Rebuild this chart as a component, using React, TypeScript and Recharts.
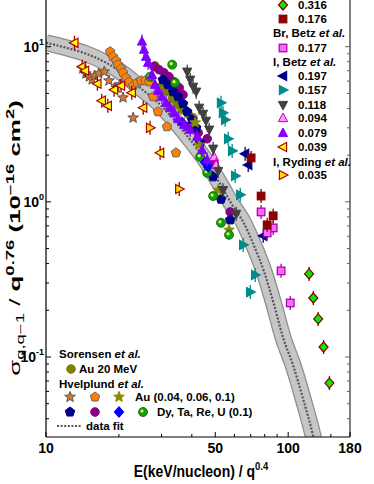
import React from 'react';
import { ComposedChart, Scatter, Line, XAxis, YAxis } from 'recharts';

// axis values
const xTicks = [10, 20, 30, 40, 50, 60, 70, 80, 90, 100, 150, 180];
const xLabels = [10, 50, 100, 180];
const yTicks = [0.04, 0.05, 0.06, 0.07, 0.08, 0.09, 0.1, 0.2, 0.3, 0.4, 0.5, 0.6, 0.7, 0.8, 0.9, 1, 2, 3, 4, 5, 6, 7, 8, 9, 10];
const yMajor: Record<number, string> = { 0.1: '-1', 1: '0', 10: '1' };

// data fit
const fitE = [10, 12.1, 14.6, 17.7, 21.4, 24.4, 28.2, 33.2, 39.4, 46.3, 52.4, 58.7, 65.2, 71.7, 79.6, 87.5, 95.3, 105, 115, 127, 133];
const fitS = [10.6, 9.85, 9.02, 7.88, 6.5, 5.44, 4.55, 3.48, 2.51, 1.79, 1.3, 0.957, 0.743, 0.536, 0.353, 0.216, 0.133, 0.0875, 0.0543, 0.0305, 0.0216];

// measured points
const d316E = [122, 127, 133, 140, 148];
const d316S = [0.343, 0.24, 0.176, 0.116, 0.0679];
const d176E = [70.3, 77.3, 86.7, 81.9];
const d176S = [1.92, 1.09, 0.813, 0.711];
const br177E = [77.3, 86.7, 81.9, 93.5, 102];
const br177S = [0.861, 0.679, 0.631, 0.359, 0.223];
const i197E = [66.4, 68.4, 78.9];
const i197S = [2.04, 1.73, 0.604];
const i157E = [52.8, 53.8, 54.9, 56.5, 58.7, 60.4, 63.4, 65.2, 73.1, 69.7];
const i157S = [4.35, 3.75, 3.38, 2.55, 2.13, 1.47, 1.11, 0.528, 0.338, 0.262];
const i118E = [38.3, 39.4, 40.5, 41.7, 42.9, 44.5, 45.8, 47.2, 49.0, 51.4, 53.8, 61.0];
const i118S = [6.9, 6.13, 5.52, 5.13, 4.04, 3.69, 3.33, 2.92, 2.2, 1.58, 1.19, 0.837];
const i094E = [49.4, 50.4];
const i094S = [1.95, 1.73];
const i079E = [24.9, 25.4, 25.9, 26.4, 27.4, 28.2, 29.0, 30.1, 31.3, 32.5, 33.8, 35.1, 37.2, 39.4, 42.1, 44.1, 46.3];
const i079S = [10.8, 9.57, 8.62, 7.88, 6.59, 5.69, 5.2, 4.76, 4.35, 4.04, 3.75, 3.43, 3.14, 2.92, 2.63, 2.16, 1.87];
const i039E = [13.1, 14.1, 14.5, 16.3, 17.0, 18.0, 19.1, 20.4, 22.6, 25.2, 29.6];
const i039S = [10.6, 7.44, 7.0, 5.77, 4.49, 4.16, 5.28, 5.6, 5.05, 4.04, 2.07];
const ryE = [26.9, 35.5];
const ryS = [3.0, 1.21];
const sorE = [28.2, 30.1, 31.6, 33.2, 34.7, 36.5, 38.6, 40.5];
const sorS = [7.53, 5.6, 5.13, 4.62, 4.23, 3.92, 3.69, 3.48];
const au04E = [14.2, 14.6, 15.1, 15.5, 15.9, 16.5, 17.4, 18.2, 19.5, 20.2, 20.8, 22.9];
const au04S = [7.22, 6.7, 6.4, 6.13, 6.5, 6.7, 6.9, 6.04, 5.44, 5.69, 4.69, 3.48];
const au06E = [18.4, 18.9, 19.5, 19.8, 20.4, 20.8, 21.4, 22.0, 22.9, 23.8, 24.7, 25.7, 26.7, 27.7, 29.0, 31.6, 34.4];
const au06S = [9.29, 8.62, 8.12, 7.66, 7.22, 6.8, 6.31, 5.94, 5.6, 5.86, 6.04, 6.04, 5.94, 4.76, 3.81, 3.05, 2.07];
const au10E = [41.3, 42.9, 51.4, 57.0];
const au10S = [3.24, 2.33, 1.19, 0.659];
const dyE = [30.4, 31.9, 33.5, 35.1, 36.8, 38.3, 40.1, 41.7, 43.3, 49.0, 52.8, 57.6];
const dyS = [6.13, 5.69, 5.13, 4.76, 4.29, 3.81, 3.38, 3.0, 2.4, 1.45, 1.04, 0.765];
const taE = [27.9, 29.3, 30.7, 32.2, 33.8, 35.5, 36.8, 38.3, 42.5, 46.3, 49.4, 57.6];
const taS = [7.44, 7.11, 6.8, 6.4, 5.94, 5.44, 4.9, 3.05, 2.79, 2.55, 1.79, 0.861];
const reE = [36.5, 45.4, 46.7];
const reS = [3.24, 1.79, 1.68];
const uE = [26.9, 33.2, 34.1, 43.3, 46.3, 49.0, 52.8, 57.0];
const uS = [6.4, 7.66, 5.86, 1.95, 1.54, 1.09, 0.733, 0.613];

const zip = (e: number[], s: number[]) => e.map((v, i) => ({ e: v, s: s[i] }));
const fitData = zip(fitE, fitS);

const FONT = "'Liberation Sans', Arial, sans-serif";

const pts = (a: number[][]) => a.map((p) => p.join(',')).join(' ');
const ring = (x: number, y: number, n: number, r1: number, r2: number) => {
  const out: number[][] = [];
  const m = r1 === r2 ? n : n * 2;
  for (let i = 0; i < m; i++) {
    const a = (-90 + (360 / m) * i) * (Math.PI / 180);
    const r = i % 2 && r1 !== r2 ? r2 : r1;
    out.push([x + r * Math.cos(a), y + r * Math.sin(a)]);
  }
  return pts(out);
};

function Mark({ k, x, y, fill, stroke, err }: any) {
  let shape: any = null;
  const sw = 1;
  switch (k) {
    case 'circle':
      shape = <circle cx={x} cy={y} r={4.3} fill={fill} stroke={stroke} strokeWidth={sw} />;
      break;
    case 'ball':
      shape = (
        <g>
          <circle cx={x} cy={y} r={4.5} fill={fill} stroke={stroke} strokeWidth={0.8} />
          <circle cx={x - 1} cy={y - 1} r={1.6} fill="#e0ff40" />
        </g>
      );
      break;
    case 'square':
      shape = <rect x={x - 3.8} y={y - 3.8} width={7.6} height={7.6} fill={fill} stroke={stroke} strokeWidth={1.2} />;
      break;
    case 'diamond':
      shape = <polygon points={pts([[x, y - 5], [x + 4.5, y], [x, y + 5], [x - 4.5, y]])} fill={fill} stroke={stroke} strokeWidth={1.2} />;
      break;
    case 'up':
      shape = <polygon points={pts([[x, y - 5], [x + 4.6, y + 3.6], [x - 4.6, y + 3.6]])} fill={fill} stroke={stroke} strokeWidth={sw} />;
      break;
    case 'down':
      shape = <polygon points={pts([[x, y + 5], [x + 4.6, y - 3.6], [x - 4.6, y - 3.6]])} fill={fill} stroke={stroke} strokeWidth={sw} />;
      break;
    case 'left':
      shape = <polygon points={pts([[x - 5, y], [x + 3.6, y - 4.6], [x + 3.6, y + 4.6]])} fill={fill} stroke={stroke} strokeWidth={1.2} />;
      break;
    case 'right':
      shape = <polygon points={pts([[x + 5, y], [x - 3.6, y - 4.6], [x - 3.6, y + 4.6]])} fill={fill} stroke={stroke} strokeWidth={1.2} />;
      break;
    case 'star':
      shape = <polygon points={ring(x, y, 5, 5.6, 2.4)} fill={fill} stroke={stroke} strokeWidth={1} />;
      break;
    case 'pent':
      shape = <polygon points={ring(x, y, 5, 5, 5)} fill={fill} stroke={stroke} strokeWidth={1} />;
      break;
  }
  return (
    <g>
      {err && <line x1={x} x2={x} y1={y - 7} y2={y + 7} stroke={err} strokeWidth={1.3} />}
      {shape}
    </g>
  );
}

const series = [
  { id: 'au04', data: zip(au04E, au04S), k: 'star', fill: '#d9782c', stroke: '#555555' },
  { id: 'au06', data: zip(au06E, au06S), k: 'pent', fill: '#ff8000', stroke: '#666666' },
  { id: 'i039', data: zip(i039E, i039S), k: 'left', fill: '#ffff00', stroke: '#b00000', err: '#9a0000' },
  { id: 'sor', data: zip(sorE, sorS), k: 'circle', fill: '#808000', stroke: '#808000' },
  { id: 'ta', data: zip(taE, taS), k: 'circle', fill: '#880088', stroke: '#880088' },
  { id: 'dy', data: zip(dyE, dyS), k: 'pent', fill: '#00008b', stroke: '#00008b' },
  { id: 'au10', data: zip(au10E, au10S), k: 'star', fill: '#8b8b00', stroke: '#8b8b00' },
  { id: 'u', data: zip(uE, uS), k: 'ball', fill: '#12a012', stroke: '#006400' },
  { id: 're', data: zip(reE, reS), k: 'diamond', fill: '#0000ff', stroke: '#0000ff' },
  { id: 'i079', data: zip(i079E, i079S), k: 'up', fill: '#8000ff', stroke: '#8000ff', err: '#8000ff' },
  { id: 'i094', data: zip(i094E, i094S), k: 'up', fill: '#ff99ff', stroke: '#c000c0', err: '#c000c0' },
  { id: 'i118', data: zip(i118E, i118S), k: 'down', fill: '#404040', stroke: '#404040', err: '#404040' },
  { id: 'i157', data: zip(i157E, i157S), k: 'right', fill: '#008b8b', stroke: '#008b8b', err: '#008b8b' },
  { id: 'i197', data: zip(i197E, i197S), k: 'left', fill: '#00008b', stroke: '#00008b', err: '#00008b' },
  { id: 'br177', data: zip(br177E, br177S), k: 'square', fill: '#ff66ff', stroke: '#a000a0', err: '#a000a0' },
  { id: 'd176', data: zip(d176E, d176S), k: 'square', fill: '#8b0000', stroke: '#8b0000', err: '#8b0000' },
  { id: 'd316', data: zip(d316E, d316S), k: 'diamond', fill: '#00ee00', stroke: '#8b0000', err: '#8b0000' },
  { id: 'ry', data: zip(ryE, ryS), k: 'right', fill: '#ffdd00', stroke: '#b00000', err: '#9a0000' },
];
const byId = (id: string) => series.find((s) => s.id === id)!;

const XTick = (p: any) => {
  const v = p.payload.value;
  const lab = xLabels.includes(v);
  return (
    <g>
      <line x1={p.x} x2={p.x} y1={p.y} y2={p.y - (lab ? 5 : 3)} stroke="#000" strokeWidth={1} />
      {lab && (
        <text x={p.x} y={p.y + 16} textAnchor="middle" fontFamily={FONT} fontWeight="bold" fontSize={14} fill="#000">
          {v}
        </text>
      )}
    </g>
  );
};

const YTick = (p: any) => {
  const v = p.payload.value;
  const sup = yMajor[v];
  return (
    <g>
      <line x1={p.x} x2={p.x + (sup ? 5 : 3)} y1={p.y} y2={p.y} stroke="#000" strokeWidth={1} />
      {sup && (
        <text x={p.x - 2} y={p.y + 5} textAnchor="end" fontFamily={FONT} fontWeight="bold" fontSize={14} fill="#000">
          10<tspan fontSize={9} dy={-7}>{sup}</tspan>
        </text>
      )}
    </g>
  );
};

const RTick = (p: any) => {
  const v = p.payload.value;
  const major = !!yMajor[v];
  return <line x1={p.x} x2={p.x - (major ? 5 : 3)} y1={p.y} y2={p.y} stroke="#606060" strokeWidth={1} />;
};

const rightLegend = [
  { y: 5, id: 'd316', t: '0.316' },
  { y: 19, id: 'd176', t: '0.176' },
  { y: 33, h: 'Br, Betz ' },
  { y: 48, id: 'br177', t: '0.177' },
  { y: 62, h: 'I, Betz ' },
  { y: 76, id: 'i197', t: '0.197' },
  { y: 90, id: 'i157', t: '0.157' },
  { y: 105, id: 'i118', t: '0.118' },
  { y: 118, id: 'i094', t: '0.094' },
  { y: 133, id: 'i079', t: '0.079' },
  { y: 147, id: 'i039', t: '0.039' },
  { y: 162, h: 'I, Ryding ' },
  { y: 175, id: 'ry', t: '0.035' },
];

const txt = { fontFamily: FONT, fontWeight: 'bold' as const, fontSize: 11.5, fill: '#000' };

function Overlay() {
  return (
    <svg width={374} height={484} style={{ position: 'absolute', left: 0, top: 0, pointerEvents: 'none' }}>
      {rightLegend.map((r, i) =>
        r.h ? (
          <text key={i} x={273} y={r.y + 4} {...txt}>
            {r.h}
            <tspan fontStyle="italic">et al.</tspan>
          </text>
        ) : (
          <g key={i}>
            <Mark {...byId(r.id!)} err={undefined} x={283} y={r.y} />
            <text x={298} y={r.y + 4} {...txt}>
              {r.t}
            </text>
          </g>
        )
      )}
      <text x={59} y={358} {...txt}>
        Sorensen <tspan fontStyle="italic">et al.</tspan>
      </text>
      <Mark {...byId('sor')} x={71} y={369} />
      <text x={79} y={373} {...txt}>Au 20 MeV</text>
      <text x={59} y={388} {...txt}>
        Hvelplund <tspan fontStyle="italic">et al.</tspan>
      </text>
      <Mark {...byId('au04')} x={70} y={397} />
      <Mark {...byId('au06')} x={95} y={397} />
      <Mark {...byId('au10')} x={119} y={397} />
      <text x={135} y={401} {...txt}>Au (0.04, 0.06, 0.1)</text>
      <Mark {...byId('dy')} x={70} y={412} />
      <Mark {...byId('ta')} x={95} y={412} />
      <Mark {...byId('re')} x={119} y={412} />
      <Mark {...byId('u')} x={143} y={412} />
      <text x={157} y={416} {...txt}>Dy, Ta, Re, U (0.1)</text>
      <line x1={57} x2={82} y1={426} y2={426} stroke="#555" strokeWidth={2.2} strokeDasharray="2 1.6" />
      <text x={86} y={430} {...txt}>data fit</text>

      <text transform="translate(201,477) scale(1,1.15)" textAnchor="middle" fontFamily={FONT} fontWeight="bold" fontSize={14} fill="#000">
        E(keV/nucleon) / q<tspan fontSize={9.5} dy={-6}>0.4</tspan>
      </text>
      <text transform="translate(20,238) rotate(-90) scale(1.85,1)" textAnchor="middle" fontFamily={FONT} fontSize={14} fill="#000">
        <tspan>σ</tspan>
        <tspan fontSize={10} dy={4}>q,q−1</tspan>
        <tspan dy={-4}> / </tspan>
        <tspan fontWeight="bold">q</tspan>
        <tspan fontWeight="bold" fontSize={10} dy={-6}>0.76</tspan>
        <tspan fontWeight="bold" dy={6}> (10</tspan>
        <tspan fontWeight="bold" fontSize={10} dy={-6}>−16</tspan>
        <tspan fontWeight="bold" dy={6}> cm</tspan>
        <tspan fontWeight="bold" fontSize={10} dy={-6}>2</tspan>
        <tspan fontWeight="bold" dy={6}>)</tspan>
      </text>
    </svg>
  );
}

export default function App() {
  return (
    <div style={{ position: 'absolute', left: 0, top: 0, width: 374, height: 484, background: '#fff' }}>
      <ComposedChart width={374} height={484} margin={{ top: 0, right: 23, bottom: 46, left: 45 }}>
        <XAxis
          type="number"
          dataKey="e"
          scale="log"
          domain={[10, 180]}
          allowDataOverflow
          ticks={xTicks}
          interval={0}
          height={1}
          tickSize={0}
          tickMargin={0}
          tickLine={false}
          tick={(p: any) => <XTick {...p} />}
          axisLine={{ stroke: '#000', strokeWidth: 1.2 }}
        />
        <YAxis
          yAxisId="l"
          type="number"
          dataKey="s"
          scale="log"
          domain={[0.0305, 20]}
          allowDataOverflow
          ticks={yTicks}
          interval={0}
          width={1}
          tickSize={0}
          tickMargin={0}
          tickLine={false}
          tick={(p: any) => <YTick {...p} />}
          axisLine={{ stroke: '#000', strokeWidth: 1.2 }}
        />
        <YAxis
          yAxisId="r"
          orientation="right"
          type="number"
          dataKey="s"
          scale="log"
          domain={[0.0305, 20]}
          allowDataOverflow
          ticks={yTicks}
          interval={0}
          width={1}
          tickSize={0}
          tickMargin={0}
          tickLine={false}
          tick={(p: any) => <RTick {...p} />}
          axisLine={{ stroke: '#808080', strokeWidth: 2 }}
        />
        <Line yAxisId="l" data={fitData} dataKey="s" type="monotone" stroke="#8c8c8c" strokeWidth={17} dot={false} isAnimationActive={false} />
        <Line yAxisId="l" data={fitData} dataKey="s" type="monotone" stroke="#c6c6c6" strokeWidth={14.5} dot={false} isAnimationActive={false} />
        <Line yAxisId="l" data={fitData} dataKey="s" type="monotone" stroke="#555555" strokeWidth={2.2} strokeDasharray="2 1.6" dot={false} isAnimationActive={false} />
        {series.map((s) => (
          <Scatter
            key={s.id}
            yAxisId="l"
            data={s.data}
            isAnimationActive={false}
            shape={(p: any) => <Mark k={s.k} fill={s.fill} stroke={s.stroke} err={s.err} x={p.cx} y={p.cy} />}
          />
        ))}
      </ComposedChart>
      <Overlay />
    </div>
  );
}
